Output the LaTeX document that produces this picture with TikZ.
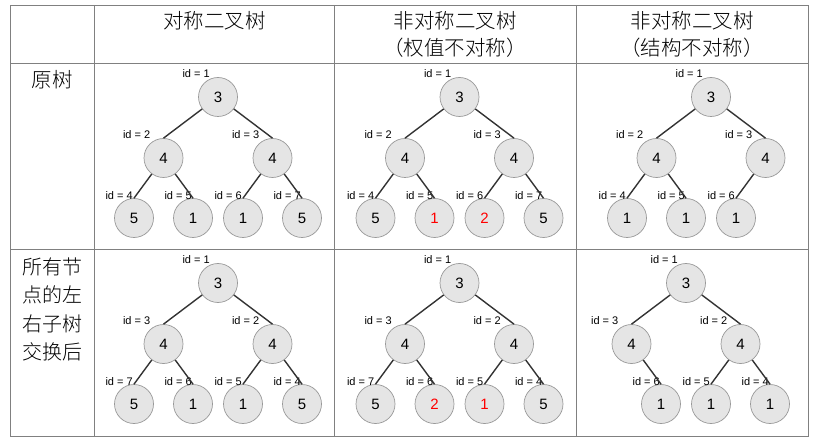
\documentclass[tikz,border=0pt]{standalone}
\usepackage{fontspec}
\setsansfont{Liberation Sans}
\newfontfamily\cjk{Noto Sans CJK SC Light}
\usetikzlibrary{positioning}

\begin{document}
\begin{tikzpicture}[x=1pt, y=-1pt,
    tline/.style={draw=black!50, line width=0.9pt},
    head/.style={font=\cjk\fontsize{20.5}{27}\selectfont, align=center, inner sep=0pt},
    tnode/.style={circle, draw=gray!80, line width=0.7pt, fill=gray!20, minimum size=39pt, inner sep=0pt, font=\sffamily\fontsize{15}{15}\selectfont},
    idl/.style={font=\sffamily\fontsize{11}{11}\selectfont, inner sep=0pt},
    lab/.style={label={[idl]above left:id = #1}},
    every child node/.style={tnode},
    every label/.style={xshift=6pt, yshift=5.5pt},
    level 1/.style={sibling distance=109pt, level distance=61pt, every label/.style={xshift=1pt, yshift=5.5pt}},
    level 2/.style={sibling distance=59pt, level distance=60pt, every label/.style={xshift=13pt, yshift=4.5pt}},
    edge from parent/.style={draw, line width=1.4pt, black!80},
    edge from parent path={(\tikzparentnode) -- (\tikzchildnode.north)}]
    \useasboundingbox (0,0) rectangle (826,443);

    % Table
    \draw[tline] (10,5) rectangle (808,436);
    \foreach \x in {94.5, 334, 576}
        \draw[tline] (\x,5) -- (\x,436);
    \foreach \y in {63, 249}
        \draw[tline] (10,\y) -- (808,\y);

    % Headers
    \node[head] (h1) at (214.5,21) {对称二叉树};
    \node[head] (h2) at (455,34.5) {非对称二叉树\\（权值不对称）};
    \node[head] (h3) at (692,34.5) {非对称二叉树\\（结构不对称）};
    \node[head] (r1) at (52,80) {原树};
    \node[head, font=\cjk\fontsize{20}{28.3}\selectfont] (r2) at (52,309.5) {所有节\\点的左\\右子树\\交换后};

    % Original trees
    \node[tnode, lab=1] (sa) at (218,97) {3}
        child {node[lab=2] {4}
            child {node[lab=4] {5}}
            child {node[lab=5] {1}}}
        child {node[lab=3] {4}
            child {node[lab=6] {1}}
            child {node[lab=7] {5}}};
    \node[tnode, lab=1] (wa) at (459.5,97) {3}
        child {node[lab=2] {4}
            child {node[lab=4] {5}}
            child {node[lab=5, text=red] {1}}}
        child {node[lab=3] {4}
            child {node[lab=6, text=red] {2}}
            child {node[lab=7] {5}}};
    \node[tnode, lab=1] (ta) at (711,97) {3}
        child {node[lab=2] {4}
            child {node[lab=4] {1}}
            child {node[lab=5] {1}}}
        child {node[lab=3] {4}
            child {node[lab=6] {1}}
            child[missing]};

    % Mirrored trees
    \node[tnode, lab=1] (sb) at (218,283) {3}
        child {node[lab=3] {4}
            child {node[lab=7] {5}}
            child {node[lab=6] {1}}}
        child {node[lab=2] {4}
            child {node[lab=5] {1}}
            child {node[lab=4] {5}}};
    \node[tnode, lab=1] (wb) at (459.5,283) {3}
        child {node[lab=3] {4}
            child {node[lab=7] {5}}
            child {node[lab=6, text=red] {2}}}
        child {node[lab=2] {4}
            child {node[lab=5, text=red] {1}}
            child {node[lab=4] {5}}};
    \node[tnode, lab=1] (tb) at (686,283) {3}
        child {node[lab=3] {4}
            child[missing]
            child {node[lab=6] {1}}}
        child {node[lab=2] {4}
            child {node[lab=5] {1}}
            child {node[lab=4] {1}}};
\end{tikzpicture}
\end{document}
